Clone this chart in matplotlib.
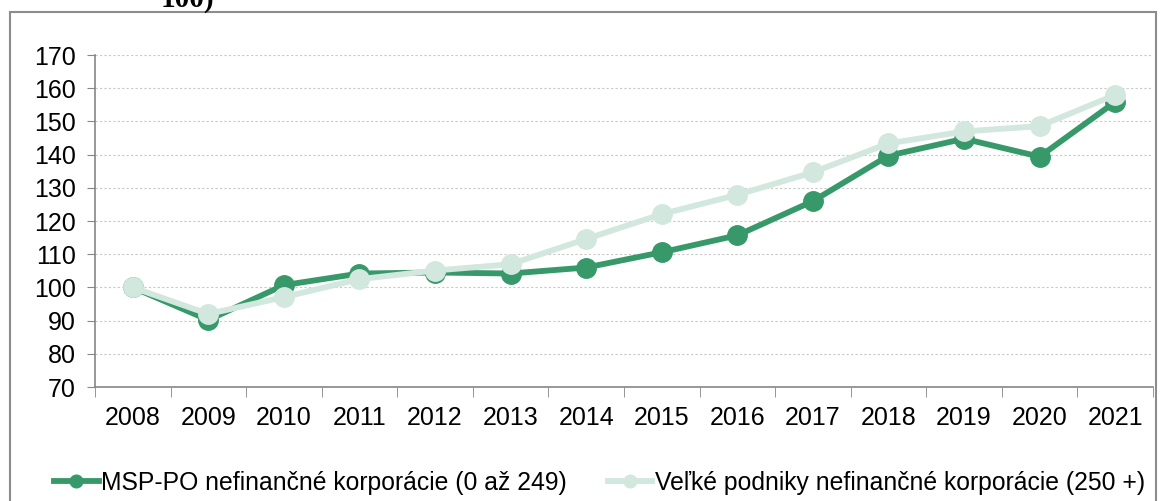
import matplotlib.pyplot as plt
from matplotlib.patches import Rectangle

years = ["2008", "2009", "2010", "2011", "2012", "2013", "2014",
         "2015", "2016", "2017", "2018", "2019", "2020", "2021"]
msp = [100.0, 90.2, 100.7, 104.2, 104.5, 104.2, 106.0,
       110.6, 115.7, 126.0, 139.7, 144.8, 139.4, 155.9]
large = [100.0, 92.0, 97.1, 102.5, 105.1, 107.0, 114.6,
         122.1, 127.9, 134.7, 143.4, 147.0, 148.6, 158.0]
msp_label = "MSP-PO nefinančné korporácie (0 až 249)"
large_label = "Veľké podniky nefinančné korporácie (250 +)"

plt.rcParams['font.family'] = ['Liberation Sans', 'DejaVu Sans']

fig = plt.figure(figsize=(11.71, 5.01), dpi=100)
ax = fig.add_axes([0.0811, 0.2275, 0.9035, 0.6625])

# frame around the whole chart area (bottom edge runs off the canvas)
fig.patches.append(Rectangle((10 / 1171, -0.1), 1146 / 1171, 1.1 - 12 / 501,
                             transform=fig.transFigure, fill=False,
                             edgecolor="#8c8c8c", linewidth=1.5))
fig.text(0.137, 0.986, "100)", family="Liberation Serif", weight="bold",
         fontsize=21, va="baseline", ha="left")

x = list(range(len(years)))
ax.plot(x, msp, color="#37996a", lw=4.2, marker="o", ms=14,
        label=msp_label, zorder=3)
ax.plot(x, large, color="#d2e7de", lw=4.2, marker="o", ms=14,
        label=large_label, zorder=4)

ax.set_ylim(70, 170)
ax.set_yticks(range(70, 171, 10))
ax.set_xlim(-0.5, len(years) - 0.5)
ax.set_xticks(x)
ax.set_xticklabels(years)
ax.set_xticks([i - 0.5 for i in range(len(years) + 1)], minor=True)
ax.tick_params(axis="x", which="major", length=0, pad=14, labelsize=18)
ax.tick_params(axis="x", which="minor", length=7, color="#868686")
ax.tick_params(axis="y", length=6, color="#868686", labelsize=18, pad=8)

ax.grid(axis="y", color="#c8c8c8", linestyle=(0, (2, 2)), lw=0.8)
ax.set_axisbelow(True)
for side in ("top", "right"):
    ax.spines[side].set_visible(False)
for side in ("left", "bottom"):
    ax.spines[side].set_color("#868686")
    ax.spines[side].set_linewidth(1.2)

fig.legend(loc="lower center", bbox_to_anchor=(0.512, -0.032), ncol=2,
           frameon=False, fontsize=17.8, handlelength=1.8, markerscale=0.65,
           handletextpad=0.1, columnspacing=1.65)

fig.savefig("out.png", dpi=100)
